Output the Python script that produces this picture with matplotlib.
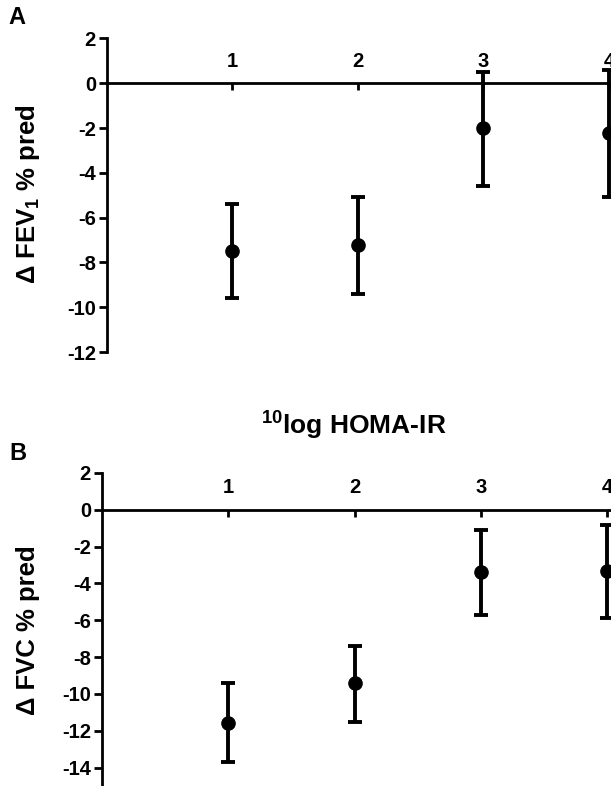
import matplotlib
matplotlib.use("Agg")
import matplotlib.pyplot as plt

plt.rcParams['font.family'] = ['Liberation Sans', 'DejaVu Sans']
plt.rcParams['font.weight'] = 'bold'
plt.rcParams['mathtext.fontset'] = 'custom'
plt.rcParams['mathtext.rm'] = 'Liberation Sans:bold'
plt.rcParams['mathtext.default'] = 'rm'
plt.rcParams['axes.unicode_minus'] = False

# 10log HOMA-IR categories
categories = [1, 2, 3, 4]

# Panel A: change in FEV1 % predicted (mean, lower, upper)
fev1_mean = [-7.5, -7.2, -2.0, -2.2]
fev1_low = [-9.6, -9.4, -4.6, -5.1]
fev1_high = [-5.4, -5.1, 0.5, 0.6]

# Panel B: change in FVC % predicted
fvc_mean = [-11.6, -9.4, -3.4, -3.3]
fvc_low = [-13.7, -11.5, -5.7, -5.9]
fvc_high = [-9.4, -7.4, -1.1, -0.8]

fig = plt.figure(figsize=(6.11, 7.86), dpi=100)
W, H = 611, 786


def panel(rect, mean, low, high, yticks, ylim, xmax):
    ax = fig.add_axes(rect)
    err = [[m - lo for m, lo in zip(mean, low)], [hi - m for m, hi in zip(mean, high)]]
    ax.errorbar(categories, mean, yerr=err, fmt='o', color='black', ms=9.5,
                elinewidth=2.8, capsize=5, capthick=2.8, clip_on=False, zorder=3)
    ax.set_xlim(0, xmax)
    ax.set_ylim(*ylim)
    for s in ['right', 'bottom']:
        ax.spines[s].set_visible(False)
    ax.spines['left'].set_linewidth(2)
    ax.spines['top'].set_position(('data', 0))
    ax.spines['top'].set_linewidth(2)
    ax.xaxis.tick_top()
    ax.set_xticks(categories)
    ax.tick_params(axis='x', direction='in', length=5, width=2, pad=9, labelsize=14.5)
    ax.set_yticks(yticks)
    ax.tick_params(axis='y', direction='out', length=6, width=2, pad=2, labelsize=14.5)
    ax.patch.set_visible(False)
    return ax


axA = panel([107 / W, 1 - 352 / H, 1 - 107 / W, (352 - 38.5) / H],
            fev1_mean, fev1_low, fev1_high, range(2, -13, -2), (-12, 2), 4.016)
axB = panel([102 / W, 0, 1 - 102 / W, (786 - 473) / H],
            fvc_mean, fvc_low, fvc_high, range(2, -15, -2), (-15, 2), 4.03)

fig.text(28 / W, 1 - 194 / H, 'Δ FEV$_1$ % pred', rotation=90, ha='center', va='center', fontsize=18.5)
fig.text(28 / W, 1 - 630 / H, 'Δ FVC % pred', rotation=90, ha='center', va='center', fontsize=18.5)
fig.text(354 / W, 1 - 426 / H, '$^{10}$log HOMA-IR', ha='center', va='center', fontsize=19)
fig.text(17 / W, 1 - 18 / H, 'A', ha='center', va='center', fontsize=17)
fig.text(18 / W, 1 - 453 / H, 'B', ha='center', va='center', fontsize=17)

fig.savefig('out.png', dpi=100)
